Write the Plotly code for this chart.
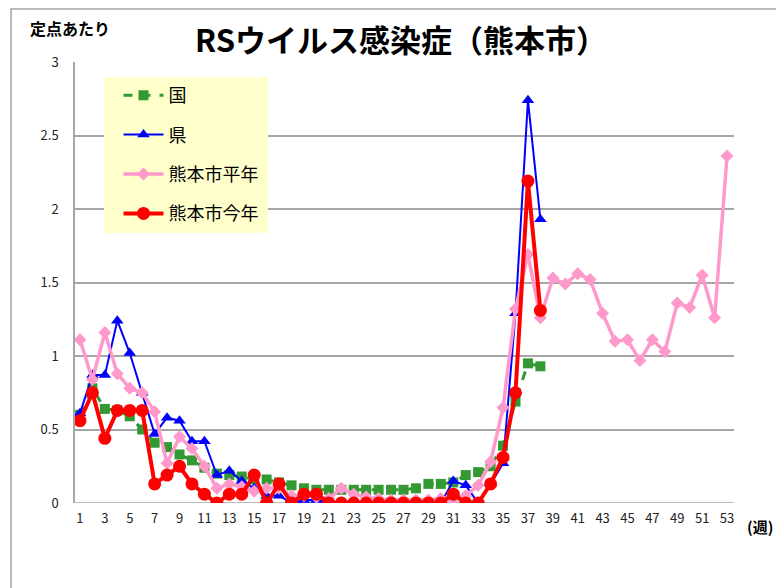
import plotly.graph_objects as go

weeks = list(range(1, 54))
tick_weeks = list(range(1, 54, 2))

kuni = [0.60, 0.78, 0.64, 0.63, 0.59, 0.50, 0.41, 0.38, 0.33, 0.29, 0.24, 0.20, 0.19, 0.18, 0.16,
        0.16, 0.14, 0.12, 0.10, 0.09, 0.09, 0.09, 0.09, 0.09, 0.09, 0.09, 0.09, 0.10, 0.13, 0.13,
        0.14, 0.19, 0.21, 0.25, 0.39, 0.69, 0.95, 0.93]
ken = [0.61, 0.87, 0.87, 1.24, 1.02, 0.75, 0.47, 0.58, 0.56, 0.42, 0.42, 0.19, 0.22, 0.15, 0.10,
       0.05, 0.05, 0.00, 0.02, 0.02, 0, 0, 0, 0, 0, 0, 0, 0, 0, 0,
       0.15, 0.12, 0.00, 0.13, 0.27, 1.29, 2.74, 1.93]
heinen = [1.11, 0.84, 1.16, 0.88, 0.78, 0.75, 0.62, 0.27, 0.45, 0.37, 0.25, 0.10, 0.13, 0.11, 0.08,
          0.10, 0.10, 0.05, 0.05, 0.04, 0.03, 0.10, 0.06, 0.04, 0.03, 0.02, 0.02, 0.02, 0.02, 0.03,
          0.02, 0.05, 0.12, 0.28, 0.65, 1.32, 1.69, 1.26, 1.53, 1.49, 1.56, 1.52, 1.29, 1.10, 1.11,
          0.97, 1.11, 1.03, 1.36, 1.33, 1.55, 1.26, 2.36]
kotoshi = [0.56, 0.75, 0.44, 0.63, 0.63, 0.63, 0.13, 0.19, 0.25, 0.13, 0.06, 0.00, 0.06, 0.06, 0.19,
           0.00, 0.13, 0.00, 0.06, 0.06, 0, 0, 0, 0, 0, 0, 0, 0, 0, 0,
           0.06, 0.00, 0.00, 0.13, 0.31, 0.75, 2.19, 1.31]

font_jp = "Noto Sans CJK JP"

fig = go.Figure()
fig.add_trace(go.Scatter(x=weeks[:len(kuni)], y=kuni, name="国", mode="lines+markers",
                         line=dict(color="#339933", width=3, dash="dash"),
                         marker=dict(symbol="square", size=10, color="#339933"),
                         legendgroup="a"))
fig.add_trace(go.Scatter(x=weeks[:len(ken)], y=ken, name="県", mode="lines+markers",
                         line=dict(color="#0000FF", width=2),
                         marker=dict(symbol="triangle-up", size=11, color="#0000FF"),
                         legendgroup="b"))
fig.add_trace(go.Scatter(x=weeks, y=heinen, name="熊本市平年", mode="lines+markers",
                         line=dict(color="#FF99CC", width=3.5),
                         marker=dict(symbol="diamond", size=10, color="#FF99CC"),
                         legendgroup="c"))
fig.add_trace(go.Scatter(x=weeks[:len(kotoshi)], y=kotoshi, name="熊本市今年", mode="lines+markers",
                         line=dict(color="#FF0000", width=4),
                         marker=dict(symbol="circle", size=13, color="#FF0000"),
                         legendgroup="d"))

fig.update_layout(
    width=784, height=588,
    margin=dict(l=67, r=58, t=54, b=93),
    paper_bgcolor="white", plot_bgcolor="white",
    font=dict(family=font_jp, color="#222222"),
    showlegend=True,
    legend=dict(x=0.066, y=0.966, xanchor="left", yanchor="top",
                bgcolor="rgba(0,0,0,0)", borderwidth=0,
                font=dict(family=font_jp, size=18, color="#000000"),
                tracegroupgap=13, itemwidth=40),
    xaxis=dict(range=[0.6, 53.56], tickmode="array", tickvals=tick_weeks,
               ticktext=[str(w) for w in tick_weeks], showgrid=False,
               zeroline=False, showline=False, ticks="",
               tickfont=dict(size=13, color="#222222", family=font_jp),
               ticklabelstandoff=6),
    yaxis=dict(range=[0, 3], dtick=0.5, showgrid=True, gridcolor="#A6A6A6", gridwidth=1.5,
               zeroline=False, showline=True, linecolor="#A6A6A6", linewidth=1.5,
               ticks="", tickfont=dict(size=13, color="#222222", family=font_jp),
               ticklabelstandoff=12),
    annotations=[
        dict(text="<b>RSウイルス感染症（熊本市）</b>", xref="paper", yref="paper",
             x=0.494, y=1.054, xanchor="center", yanchor="middle", showarrow=False,
             font=dict(size=31, color="#000000", family=font_jp)),
        dict(text="<b>定点あたり</b>", xref="paper", yref="paper",
             x=-0.0713, y=1.077, xanchor="left", yanchor="middle", showarrow=False,
             font=dict(size=16, color="#000000", family=font_jp)),
        dict(text="<b>(週)</b>", xref="paper", yref="paper",
             x=1.0167, y=-0.054, xanchor="left", yanchor="middle", showarrow=False,
             font=dict(size=15, color="#000000", family=font_jp)),
    ],
    shapes=[
        dict(type="rect", xref="paper", yref="paper", x0=-0.097, x1=1.0698, y0=-0.3, y1=1.12,
             line=dict(color="#A6A6A6", width=1.5), fillcolor="rgba(0,0,0,0)", layer="below"),
        dict(type="line", xref="paper", yref="y", x0=0, x1=1, y0=0, y1=0,
             line=dict(color="#A6A6A6", width=1.5), layer="below"),
        dict(type="rect", xref="paper", yref="paper", x0=0.044, x1=0.2929, y0=0.612, y1=0.966,
             line=dict(width=0), fillcolor="#FFFFCC", layer="above"),
    ],
)

fig.write_html("out.html")
